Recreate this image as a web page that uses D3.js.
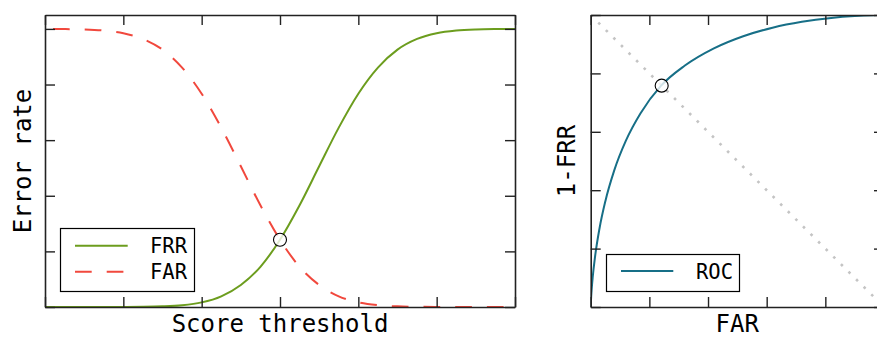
<!DOCTYPE html>
<html><head><meta charset="utf-8">
<script src="https://cdn.jsdelivr.net/npm/d3@7/dist/d3.min.js"></script>
<style>
html,body{margin:0;padding:0;background:#fff;}
svg{display:block;}
text{font-family:"DejaVu Sans Mono",monospace;fill:#000;}
</style></head>
<body>
<svg id="chart" width="877" height="338"></svg>
<script>
// ---- data ----
const thresholds = [0,0.25,0.5,0.75,1,1.25,1.5,1.75,2,2.25,2.5,2.75,3,3.25,3.5,3.75,4,4.25,4.5,4.75,5,5.25,5.5,5.75,6];
const frr = [0.0000,0.0000,0.0000,0.0000,0.0002,0.0007,0.0023,0.0064,0.0166,0.0384,0.0793,0.1446,0.2420,0.3660,0.5060,0.6450,0.7670,0.8610,0.9255,0.9640,0.9845,0.9940,0.9980,0.9994,0.9998];
const far = [0.9998,0.9994,0.9980,0.9940,0.9845,0.9640,0.9255,0.8610,0.7670,0.6450,0.5060,0.3660,0.2420,0.1446,0.0793,0.0384,0.0166,0.0064,0.0023,0.0007,0.0002,0.0000,0.0000,0.0000,0.0000];
const rocFar = [0,0.0002,0.001,0.003,0.007,0.015,0.03,0.05,0.08,0.12,0.17,0.24,0.32,0.42,0.52,0.62,0.72,0.82,0.90,0.96,1.0];
const rocTpr = [0,0.0067,0.0244,0.0563,0.1037,0.1736,0.269,0.3625,0.467,0.5695,0.6635,0.758,0.826,0.8857,0.9273,0.9565,0.9767,0.9899,0.9964,0.9992,1.0];
const diagX = [0,1];
const diagY = [1,0];
const eerThreshold = [3];
const eerRate = [0.242];
const leftTicksX = [0,1,2,3,4,5,6];
const leftTicksY = [0,0.2,0.4,0.6,0.8,1.0];
const rightTicks = [0,0.2,0.4,0.6,0.8,1.0];
const labels = {leftX:"Score threshold", leftY:"Error rate", rightX:"FAR", rightY:"1-FRR"};
const seriesNames = ["FRR","FAR","ROC"];

const C_FRR = "#6c9d1e", C_FAR = "#f1483d", C_ROC = "#176f87", C_AX = "#222";

const svg = d3.select("#chart");
svg.append("rect").attr("width",877).attr("height",338).attr("fill","#fff");

function frame(g, x, y, xt, yt){
  const tick = -10;
  const [x0,x1] = x.range(), [y0,y1] = y.range();
  const ax = [
    [d3.axisBottom(x).tickValues(xt), `translate(0,${y0})`],
    [d3.axisTop(x).tickValues(xt), `translate(0,${y1})`],
    [d3.axisLeft(y).tickValues(yt), `translate(${x0},0)`],
    [d3.axisRight(y).tickValues(yt), `translate(${x1},0)`]
  ];
  ax.forEach(([a,t])=>{
    const s = g.append("g").attr("transform",t)
      .call(a.tickSize(tick).tickSizeOuter(0).tickFormat(""));
    s.selectAll("path.domain").attr("stroke",C_AX).attr("stroke-width",1.6);
    s.selectAll(".tick line").attr("stroke",C_AX).attr("stroke-width",1.4);
  });
}

// ---- left panel ----
const xL = d3.scaleLinear().domain([0,6]).range([45,515]);
const yL = d3.scaleLinear().domain([0,1.05]).range([307,15]);
const gL = svg.append("g");
svg.append("clipPath").attr("id","clipL").append("rect")
  .attr("x",45).attr("y",15).attr("width",470).attr("height",292);

const lineL = (vals)=> d3.line().x((d,i)=>xL(thresholds[i])).y(d=>yL(d)).curve(d3.curveMonotoneX)(vals);
gL.append("path").attr("d",lineL(far)).attr("fill","none").attr("stroke",C_FAR)
  .attr("stroke-width",2).attr("stroke-dasharray","16.7,15").attr("stroke-dashoffset",-8)
  .attr("clip-path","url(#clipL)");
gL.append("path").attr("d",lineL(frr)).attr("fill","none").attr("stroke",C_FRR)
  .attr("stroke-width",2).attr("clip-path","url(#clipL)");
frame(gL, xL, yL, leftTicksX, leftTicksY);
gL.selectAll("circle.eer").data(eerThreshold).enter().append("circle")
  .attr("cx",d=>xL(d)).attr("cy",(d,i)=>yL(eerRate[i])).attr("r",6.5)
  .attr("fill","rgba(255,255,255,0.8)").attr("stroke","#000").attr("stroke-width",1.1);

// legend left
const lg = svg.append("g");
lg.append("rect").attr("x",60.5).attr("y",228.5).attr("width",134).attr("height",63)
  .attr("fill","#fff").attr("stroke","#000").attr("stroke-width",1.2);
lg.append("line").attr("x1",75).attr("x2",127.7).attr("y1",245.7).attr("y2",245.7)
  .attr("stroke",C_FRR).attr("stroke-width",2);
lg.append("line").attr("x1",75).attr("x2",127.7).attr("y1",271.7).attr("y2",271.7)
  .attr("stroke",C_FAR).attr("stroke-width",2).attr("stroke-dasharray","16.7,15");
lg.append("text").attr("x",150).attr("y",253.3).attr("font-size",20.5).text(seriesNames[0]);
lg.append("text").attr("x",150).attr("y",279.3).attr("font-size",20.5).text(seriesNames[1]);

svg.append("text").attr("x",280).attr("y",332).attr("text-anchor","middle")
  .attr("font-size",24).text(labels.leftX);
svg.append("text").attr("transform","translate(31,161) rotate(-90)").attr("text-anchor","middle")
  .attr("font-size",24).text(labels.leftY);

// ---- right panel ----
const xR = d3.scaleLinear().domain([0,1]).range([590.7,884]);
const yR = d3.scaleLinear().domain([0,1]).range([307,15]);
const gR = svg.append("g");
svg.append("clipPath").attr("id","clipR").append("rect")
  .attr("x",590.7).attr("y",15).attr("width",293.3).attr("height",292);
gR.append("path").attr("d",d3.line().x((d,i)=>xR(d)).y((d,i)=>yR(diagY[i]))(diagX))
  .attr("fill","none").attr("stroke","#c4c4c4").attr("stroke-width",2.6)
  .attr("stroke-dasharray","2.6,8.1").attr("clip-path","url(#clipR)");
gR.append("path").attr("d",d3.line().x(d=>xR(d)).y((d,i)=>yR(rocTpr[i])).curve(d3.curveMonotoneX)(rocFar))
  .attr("fill","none").attr("stroke",C_ROC).attr("stroke-width",2).attr("clip-path","url(#clipR)");
frame(gR, xR, yR, rightTicks, rightTicks);
gR.selectAll("circle.eer").data(eerRate).enter().append("circle")
  .attr("cx",d=>xR(d)).attr("cy",d=>yR(1-d)).attr("r",6.5)
  .attr("fill","rgba(255,255,255,0.8)").attr("stroke","#000").attr("stroke-width",1.1);

const lr = svg.append("g");
lr.append("rect").attr("x",606.5).attr("y",254.5).attr("width",133).attr("height",37)
  .attr("fill","#fff").attr("stroke","#000").attr("stroke-width",1.2);
lr.append("line").attr("x1",621).attr("x2",673.3).attr("y1",271).attr("y2",271)
  .attr("stroke",C_ROC).attr("stroke-width",2);
lr.append("text").attr("x",696).attr("y",279.3).attr("font-size",20.5).text(seriesNames[2]);

svg.append("text").attr("x",737.3).attr("y",332).attr("text-anchor","middle")
  .attr("font-size",24).text(labels.rightX);
svg.append("text").attr("transform","translate(575,161) rotate(-90)").attr("text-anchor","middle")
  .attr("font-size",24).text(labels.rightY);
</script>
</body></html>
